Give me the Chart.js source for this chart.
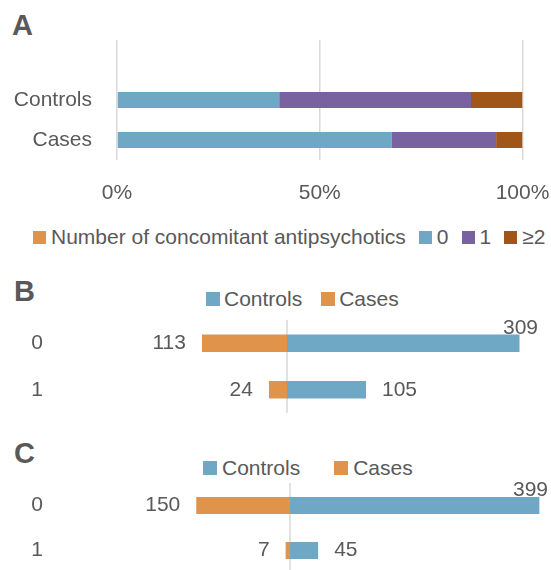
<!DOCTYPE html>
<html lang="en">
<head>
  <meta charset="UTF-8">
  <title>Concomitant antipsychotics</title>
  <style>
    html, body { margin: 0; padding: 0; }
    body { width: 551px; height: 570px; overflow: hidden; position: relative; background: #fff;
           font-family: "Liberation Sans", Arial, sans-serif; color: #595959; }
    .letter { position: absolute; font-size: 29px; font-weight: bold; line-height: 1; }
    canvas { position: absolute; left: 0; }
    .legend { position: absolute; display: flex; align-items: center; height: 24px;
              font-size: 21px; line-height: 24px; white-space: nowrap; }
    .legend .box { display: inline-block; flex: none; }
  </style>
  <script src="https://cdn.jsdelivr.net/npm/chart.js"></script>
</head>
<body>
  <div class="letter" style="left:12px;top:11px">A</div>
  <canvas id="chartA" width="551" height="215" style="top:0"></canvas>
  <div class="legend" id="legendA" style="left:33px;top:225px"></div>

  <div class="letter" style="left:14px;top:277px">B</div>
  <div class="legend" id="legendB" style="left:206px;top:287px"></div>
  <canvas id="chartB" width="541" height="110" style="top:310px"></canvas>

  <div class="letter" style="left:14px;top:439px">C</div>
  <div class="legend" id="legendC" style="left:203px;top:456px"></div>
  <canvas id="chartC" width="551" height="100" style="top:475px"></canvas>

  <script>
    // ---- data ----
    // panel A: share of patients by number of concomitant antipsychotics (%)
    const groupsA = ['', 'Controls', 'Cases'];   // first row is the header series
    const headerA = 'Number of concomitant antipsychotics';
    const levelsA = ['0', '1', '≥2'];
    const pctNone = [null, 40.0, 67.8];
    const pctOne  = [null, 47.3, 25.7];
    const pctTwo  = [null, 12.7, 6.5];
    const pctTicks = [0, 50, 100];

    // panel B
    const rowsB = ['0', '1'];
    const controlsB = [309, 105];
    const casesB = [113, 24];

    // panel C
    const rowsC = ['0', '1'];
    const controlsC = [399, 45];
    const casesC = [150, 7];

    const seriesNames = ['Controls', 'Cases'];

    // ---- look ----
    const FONT = '"Liberation Sans", Arial, sans-serif';
    const TEXT = '#595959';
    const GRID = '#d9d9d9';
    const BLUE = '#6fa8c5';
    const PURPLE = '#7862a0';
    const BROWN = '#a05619';
    const ORANGE = '#df934b';

    Chart.defaults.font.family = FONT;
    Chart.defaults.font.size = 21;
    Chart.defaults.color = TEXT;
    Chart.defaults.animation = false;

    // value labels next to the bars, pushed above the bar when they run off the edge
    const valueLabels = {
      id: 'valueLabels',
      afterDatasetsDraw(chart) {
        const ctx = chart.ctx;
        const edge = chart.width - 3;
        const gap = 16;
        ctx.save();
        ctx.font = '21px ' + FONT;
        ctx.fillStyle = TEXT;
        chart.data.datasets.forEach((ds, di) => {
          chart.getDatasetMeta(di).data.forEach((bar, i) => {
            const v = ds.data[i];
            const text = String(Math.abs(v));
            const w = ctx.measureText(text).width;
            ctx.textBaseline = 'middle';
            if (v < 0) {
              ctx.textAlign = 'right';
              ctx.fillText(text, bar.x - gap, bar.y);
            } else if (bar.x + gap + w <= edge) {
              ctx.textAlign = 'left';
              ctx.fillText(text, bar.x + gap, bar.y);
            } else {
              ctx.textAlign = 'right';
              ctx.textBaseline = 'alphabetic';
              ctx.fillText(text, edge, bar.y - bar.height / 2 - 1);
            }
          });
        });
        ctx.restore();
      }
    };

    // vertical line through zero of the value axis
    const zeroLine = {
      id: 'zeroLine',
      beforeDatasetsDraw(chart) {
        const ctx = chart.ctx;
        const x = chart.scales.x.getPixelForValue(0);
        const { top, bottom } = chart.chartArea;
        ctx.save();
        ctx.strokeStyle = GRID;
        ctx.lineWidth = 1.5;
        ctx.beginPath();
        ctx.moveTo(x, top);
        ctx.lineTo(x, bottom);
        ctx.stroke();
        ctx.restore();
      }
    };

    function buildLegend(id, chart, box, textGap, itemGap) {
      const el = document.getElementById(id);
      chart.data.datasets.forEach((ds, i) => {
        const sq = document.createElement('span');
        sq.className = 'box';
        sq.style.width = box + 'px';
        sq.style.height = box + 'px';
        sq.style.background = ds.backgroundColor;
        sq.style.marginRight = textGap + 'px';
        sq.style.marginLeft = (i ? itemGap : 0) + 'px';
        const txt = document.createElement('span');
        txt.textContent = ds.label;
        el.append(sq, txt);
      });
    }

    // keep tick labels from shrinking the plot area
    const noLabelPadding = s => {
      s.paddingTop = 0; s.paddingBottom = 0; s.paddingLeft = 0; s.paddingRight = 0;
    };

    // ---- panel A ----
    const chartA = new Chart(document.getElementById('chartA'), {
      type: 'bar',
      data: {
        labels: groupsA,
        datasets: [
          { label: headerA, data: [null, null, null], backgroundColor: ORANGE },
          { label: levelsA[0], data: pctNone, backgroundColor: BLUE },
          { label: levelsA[1], data: pctOne, backgroundColor: PURPLE },
          { label: levelsA[2], data: pctTwo, backgroundColor: BROWN }
        ]
      },
      options: {
        indexAxis: 'y',
        responsive: false,
        layout: { padding: { top: 40, right: 28.5, bottom: 0, left: 0 } },
        datasets: { bar: { categoryPercentage: 1, barPercentage: 0.4 } },
        plugins: { legend: { display: false }, tooltip: { enabled: false } },
        scales: {
          x: {
            stacked: true, min: 0, max: 100,
            afterBuildTicks: s => { s.ticks = pctTicks.map(v => ({ value: v })); },
            ticks: { padding: 21, callback: v => v + '%' },
            grid: { color: GRID, lineWidth: 1.5, drawTicks: false },
            border: { display: false },
            afterFit: s => { noLabelPadding(s); s.height = 55; }
          },
          y: {
            stacked: true,
            ticks: { padding: 25 },
            grid: { display: false, drawTicks: false },
            border: { display: false },
            afterFit: s => { noLabelPadding(s); s.width = 117; }
          }
        }
      }
    });
    buildLegend('legendA', chartA, 13, 5, 13);

    // ---- panels B and C ----
    function butterfly(id, rows, controls, cases, min, max, pad, barPct) {
      return new Chart(document.getElementById(id), {
        type: 'bar',
        data: {
          labels: rows,
          datasets: [
            { label: seriesNames[0], data: controls, backgroundColor: BLUE },
            { label: seriesNames[1], data: cases.map(v => -v), backgroundColor: ORANGE }
          ]
        },
        options: {
          indexAxis: 'y',
          responsive: false,
          layout: { padding: pad },
          datasets: { bar: { categoryPercentage: 1, barPercentage: barPct } },
          plugins: { legend: { display: false }, tooltip: { enabled: false } },
          scales: {
            x: { stacked: true, min: min, max: max, display: false },
            y: {
              stacked: true,
              ticks: { padding: 7 },
              grid: { display: false, drawTicks: false },
              border: { display: false },
              afterFit: s => { noLabelPadding(s); s.width = 50; }
            }
          }
        },
        plugins: [zeroLine, valueLabels]
      });
    }

    const chartB = butterfly('chartB', rowsB, controlsB, casesB, -315, 315,
      { top: 10, right: 17, bottom: 7, left: 0 }, 0.376);
    buildLegend('legendB', chartB, 14, 4, 19);

    const chartC = butterfly('chartC', rowsC, controlsC, casesC, -384, 400,
      { top: 8, right: 11, bottom: 2, left: 0 }, 0.378);
    buildLegend('legendC', chartC, 14, 5, 34);
  </script>
</body>
</html>
